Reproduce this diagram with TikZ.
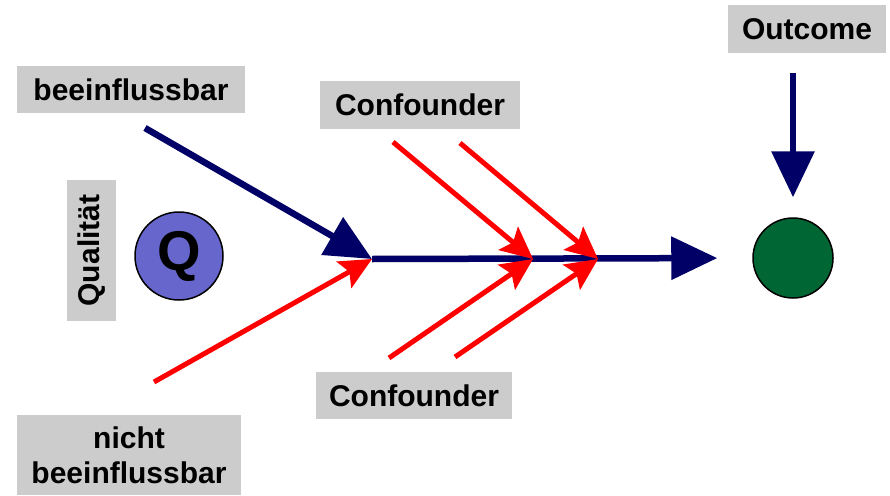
\documentclass[tikz,border=0pt]{standalone}
\usepackage{fontspec}
\setmainfont{Liberation Sans}
\usetikzlibrary{arrows.meta}
\definecolor{navy}{RGB}{0,0,102}
\definecolor{boxgray}{RGB}{204,204,204}
\definecolor{qblue}{RGB}{102,102,204}
\definecolor{resgreen}{RGB}{0,102,51}
\begin{document}
\begin{tikzpicture}[x=1pt, y=-1pt,
    label box/.style={fill=boxgray, inner sep=0pt, align=center,
      font=\fontsize{30}{35}\selectfont\bfseries},
    blue arrow/.style={navy, line width=6.5pt, -{Triangle[length=46pt,width=42pt]}},
    red arrow/.style={red, line width=5pt, -{Stealth[length=32pt,width=30pt,inset=6pt]}}]
  \useasboundingbox (0,0) rectangle (890,495);
  % labels
  \node[label box, minimum width=228pt, minimum height=47pt] (infl) at (131,89.5) {beeinflussbar};
  \node[label box, minimum width=224pt, minimum height=80pt] (ninfl) at (129,455) {nicht\\beeinflussbar};
  \node[label box, minimum width=200pt, minimum height=48pt] (conftop) at (420,105) {Confounder};
  \node[label box, minimum width=196pt, minimum height=47pt] (confbot) at (414,395.5) {Confounder};
  \node[label box, minimum width=158pt, minimum height=48pt] (outcome) at (807,29) {Outcome};
  \node[label box, rotate=90, minimum width=141pt, minimum height=49pt] (qual) at (91.5,250.5) {Qualität};
  % circles
  \node[circle, draw, line width=1.5pt, fill=qblue, minimum size=88pt, inner sep=0pt,
    font=\fontsize{56}{56}\selectfont\bfseries] (q) at (179,256) {Q};
  \node[circle, draw, line width=1.5pt, fill=resgreen, minimum size=80pt] (res) at (793,258) {};
  % points on the spine and free ends
  \coordinate (j0) at (372,259);
  \coordinate (j1) at (533,259);
  \coordinate (j2) at (598,259);
  \coordinate (b0) at (145,128);
  \coordinate (n0) at (154,382);
  \coordinate (t1) at (393,142);
  \coordinate (t2) at (460,143);
  \coordinate (u1) at (389,358);
  \coordinate (u2) at (455,357);
  % arrows
  \draw[red arrow] (n0) -- (j0);
  \draw[blue arrow] (b0) -- (j0);
  \draw[blue arrow, shorten >=35pt] (j0) -- (res.west);
  \draw[blue arrow, shorten <=20pt, shorten >=20pt] (res.north |- outcome.south) -- (res.north);
  \draw[red arrow] (t1) -- (j1);
  \draw[red arrow] (t2) -- (j2);
  \draw[red arrow] (u1) -- (j1);
  \draw[red arrow] (u2) -- (j2);
\end{tikzpicture}
\end{document}
